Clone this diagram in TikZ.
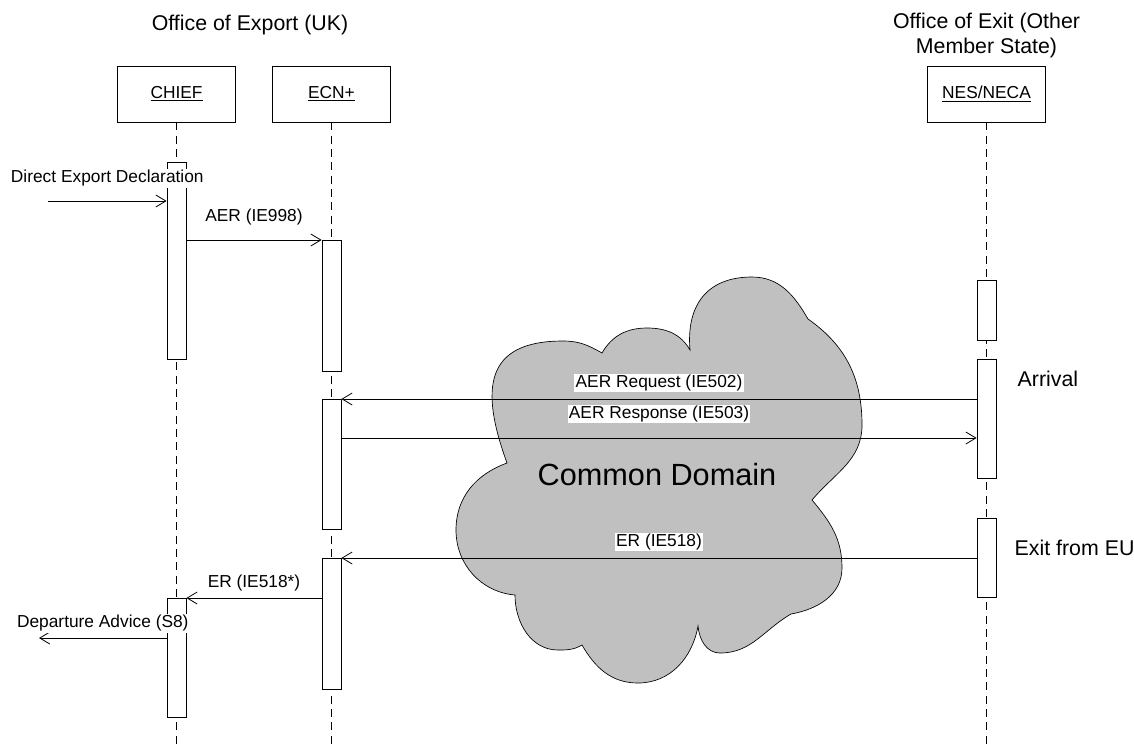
\documentclass[tikz,border=0pt]{standalone}
\usepackage{fontspec}
\setmainfont{Liberation Sans}
\usetikzlibrary{arrows.meta}
\definecolor{cloudgray}{RGB}{192,192,192}

\begin{document}
\begin{tikzpicture}[x=0.75pt,y=-0.75pt]
\tikzstyle{lifebox} = [rectangle, draw, line width=0.6pt, minimum width=88.5pt,
minimum height=42pt, font=\fontsize{13}{15.6}\selectfont]
\tikzstyle{actbar} = [rectangle, draw, line width=0.6pt, fill=white,
minimum width=14.25pt, inner sep=0pt, anchor=north]
\tikzstyle{lifeline} = [draw, line width=0.6pt, dash pattern=on 6pt off 4pt]
\tikzstyle{msg} = [draw, line width=0.6pt, -{Straight Barb[length=7.5pt,width=9pt]}]
\tikzstyle{msglabel} = [fill=white, inner sep=1pt, font=\fontsize{13}{15.6}\selectfont]
\tikzstyle{officetitle} = [align=center, font=\fontsize{16}{18.75}\selectfont]
\tikzstyle{domaincloud} = [draw, line width=0.5pt, fill=cloudgray]

\useasboundingbox (0,0) rectangle (1134,744);

% the common domain cloud
\path[domaincloud] (507,463)
  to[out=110,in=180,looseness=1.5] (563,341)
  to[out=0,in=150] (602,353)
  to[out=60,in=180] (647,328)
  to[out=0,in=120] (690,350)
  to[out=95,in=180,looseness=1.2] (752,277)
  to[out=0,in=120] (808,319)
  to[out=-35,in=90] (862,425)
  to[out=-90,in=50] (812,500)
  to[out=-50,in=90] (842,568)
  to[out=-90,in=10] (791,614)
  to[out=-150,in=0] (720,653)
  to[out=180,in=-85] (698,626)
  to[out=-100,in=0] (638,683)
  to[out=180,in=-60] (582,645)
  to[out=-150,in=0] (558,650)
  to[out=180,in=-90] (515,595)
  to[out=175,in=-90] (456,530)
  to[out=90,in=200] (507,463) -- cycle;
\node[font=\fontsize{23}{27}\selectfont] (domain_text) at (657,475) {Common Domain};

% offices
\node[officetitle] (export_title) at (250,25) {Office of Export (UK)};
\node[officetitle] (exit_title) at (986.5,35) {Office of Exit (Other\\Member State)};

% lifelines
\coordinate (bottom) at (0,744);
\node[lifebox] (chief) at (176.5,94) {\underline{CHIEF}};
\node[lifebox] (ecn) at (331.5,94) {\underline{ECN+}};
\node[lifebox] (nes) at (986.5,94) {\underline{NES/NECA}};
\path[lifeline] (chief.south) -- (chief.south |- bottom);
\path[lifeline] (ecn.south) -- (ecn.south |- bottom);
\path[lifeline] (nes.south) -- (nes.south |- bottom);

% activations
\node[actbar, minimum height=147.75pt] (chief_bar1) at (176.5,162) {};
\node[actbar, minimum height=89.25pt] (chief_bar2) at (176.5,598) {};
\node[actbar, minimum height=98.25pt] (ecn_bar1) at (331.5,240) {};
\node[actbar, minimum height=97.5pt] (ecn_bar2) at (331.5,399) {};
\node[actbar, minimum height=98.25pt] (ecn_bar3) at (331.5,558) {};
\node[actbar, minimum height=45pt] (nes_bar1) at (986.5,280) {};
\node[actbar, minimum height=89.25pt] (nes_bar2) at (986.5,359) {};
\node[actbar, minimum height=59.25pt] (nes_bar3) at (986.5,518) {};

\node[officetitle, anchor=west] (arrival) at (1013,379) {Arrival};
\node[officetitle, anchor=west] (exit_eu) at (1010,548) {Exit from EU};

% messages
\coordinate (ded_start) at (48,201);
\coordinate (resp) at (0,438);
\coordinate (dep_end) at (39,638);
\path[msg] (ded_start) -- node[msglabel, yshift=17pt] {Direct Export Declaration} (ded_start -| chief_bar1.west);
\path[msg] (chief_bar1.east |- ecn_bar1.north) -- node[msglabel, yshift=17pt] {AER (IE998)} (ecn_bar1.north west);
\path[msg] (nes_bar2.west |- ecn_bar2.north) -- node[msglabel, yshift=12pt] {AER Request (IE502)} (ecn_bar2.north east);
\path[msg] (ecn_bar2.east |- resp) -- node[msglabel, yshift=18pt] {AER Response (IE503)} (nes_bar2.west |- resp);
\path[msg] (nes_bar3.west |- ecn_bar3.north) -- node[msglabel, yshift=12pt] {ER (IE518)} (ecn_bar3.north east);
\path[msg] (ecn_bar3.west |- chief_bar2.north) -- node[msglabel, yshift=11pt] {ER (IE518*)} (chief_bar2.north east);
\path[msg] (chief_bar2.west |- dep_end) -- node[msglabel, yshift=11pt] {Departure Advice (S8)} (dep_end);

\end{tikzpicture}
\end{document}
